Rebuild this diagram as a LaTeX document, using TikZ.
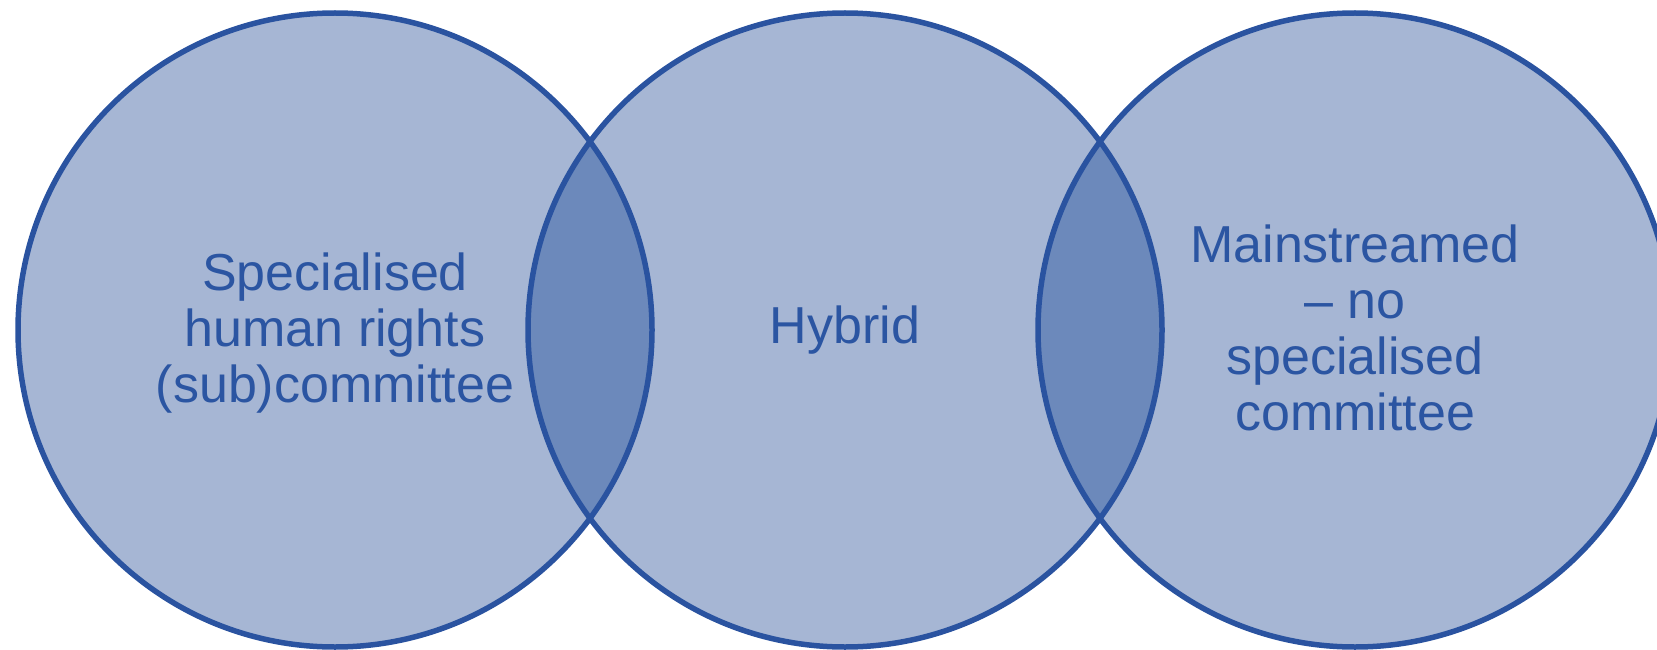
\documentclass[tikz,border=0pt]{standalone}
\usepackage{fontspec}
\setmainfont{Liberation Sans}
\definecolor{setfill}{HTML}{A6B6D4}
\definecolor{lensfill}{HTML}{6C89BB}
\definecolor{setline}{HTML}{2A53A0}
\definecolor{settext}{HTML}{2B55A2}
\tikzset{
  setlabel/.style={text=settext, align=center, inner sep=0pt,
    font=\fontsize{52}{56}\selectfont},
  ring/.style={draw=setline, line width=5.5pt},
}
\begin{document}
\begin{tikzpicture}[x=1pt,y=-1pt]
  \useasboundingbox (0,0) rectangle (1657,650);
  \clip (0,0) rectangle (1657,650);
  \def\rad{317}
  \coordinate (cl) at (335,330);
  \coordinate (cm) at (845,330);
  \coordinate (cr) at (1355,330);
  % filled sets
  \fill[setfill] (cl) circle[radius=\rad];
  \fill[setfill] (cm) circle[radius=\rad];
  \fill[setfill] (cr) circle[radius=\rad];
  % overlaps
  \begin{scope}
    \clip (cl) circle[radius=\rad];
    \fill[lensfill] (cm) circle[radius=\rad];
  \end{scope}
  \begin{scope}
    \clip (cm) circle[radius=\rad];
    \fill[lensfill] (cr) circle[radius=\rad];
  \end{scope}
  % outlines
  \draw[ring] (cl) circle[radius=\rad];
  \draw[ring] (cm) circle[radius=\rad];
  \draw[ring] (cr) circle[radius=\rad];
  % labels
  \node[setlabel] (tl) at ([yshift=-3]cl) {Specialised\\human rights\\(sub)committee};
  \node[setlabel] (tm) at (cm) {Hybrid};
  \node[setlabel] (tr) at ([yshift=2]cr) {Mainstreamed\\– no\\specialised\\committee};
\end{tikzpicture}
\end{document}
